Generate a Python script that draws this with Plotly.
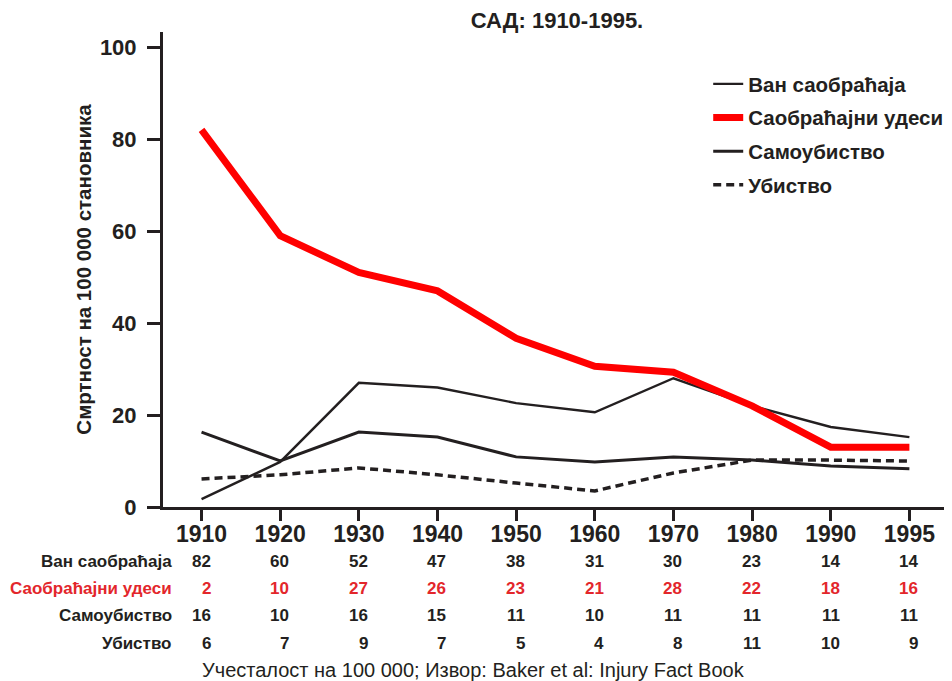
import plotly.graph_objects as go

years = ["1910", "1920", "1930", "1940", "1950", "1960", "1970", "1980", "1990", "1995"]

# Line values
saobracajni_udesi_line = [82, 59, 51, 47, 36.7, 30.6, 29.3, 22, 13, 13]
van_saobracaja_line = [1.7, 9.8, 27, 26, 22.6, 20.6, 28, 22, 17.4, 15.2]
samoubistvo_line = [16.3, 10, 16.3, 15.2, 10.9, 9.8, 10.9, 10.2, 8.9, 8.3]
ubistvo_line = [6.1, 7, 8.5, 7, 5.2, 3.5, 7.4, 10.2, 10.2, 10]

# Table below the chart
row_labels = ["Ван саобраћаја", "Саобраћајни удеси", "Самоубиство", "Убиство"]
row_van = [82, 60, 52, 47, 38, 31, 30, 23, 14, 14]
row_saob = [2, 10, 27, 26, 23, 21, 28, 22, 18, 16]
row_samo = [16, 10, 16, 15, 11, 10, 11, 11, 11, 11]
row_ubi = [6, 7, 9, 7, 5, 4, 8, 11, 10, 9]

DARK = "#231f20"
RED = "#ff0000"
TRED = "#e3262b"
FONT = "Liberation Sans, Arial, sans-serif"

fig = go.Figure()
fig.add_trace(go.Scatter(x=years, y=van_saobracaja_line, name="Ван саобраћаја", mode="lines",
                         line=dict(color=DARK, width=2.4), legendgroup="a"))
fig.add_trace(go.Scatter(x=years, y=saobracajni_udesi_line, name="Саобраћајни удеси", mode="lines",
                         line=dict(color=RED, width=7), legendgroup="b"))
fig.add_trace(go.Scatter(x=years, y=samoubistvo_line, name="Самоубиство", mode="lines",
                         line=dict(color=DARK, width=3), legendgroup="c"))
fig.add_trace(go.Scatter(x=years, y=ubistvo_line, name="Убиство", mode="lines",
                         line=dict(color=DARK, width=3.5, dash="8px,5px"), legendgroup="d"))

L, R, T, B = 163, 4, 32, 174
W, H = 952, 681
pw = W - L - R
ph = H - T - B

def py(pix):
    return (H - B - pix) / ph

def px(pix):
    return (pix - L) / pw

annotations = []
rows = [row_van, row_saob, row_samo, row_ubi]
row_y = [561, 588, 615, 643]
for i, (lab, vals) in enumerate(zip(row_labels, rows)):
    col = TRED if i == 1 else DARK
    annotations.append(dict(text=lab, xref="paper", yref="paper", x=px(174), y=py(row_y[i]),
                            xanchor="right", yanchor="middle", showarrow=False,
                            font=dict(family=FONT, size=17, color=col, weight="bold")))
    for j, v in enumerate(vals):
        annotations.append(dict(text=str(v), xref="x", yref="paper", x=j, y=py(row_y[i]),
                                xanchor="right", yanchor="middle", xshift=11, showarrow=False,
                                font=dict(family=FONT, size=17, color=col, weight="bold")))

annotations.append(dict(text="Учесталост на 100 000; Извор: Baker et al: Injury Fact Book",
                        xref="paper", yref="paper", x=px(475), y=py(670), xanchor="center",
                        yanchor="middle", showarrow=False,
                        font=dict(family=FONT, size=20, color=DARK)))

fig.update_layout(
    width=W, height=H,
    margin=dict(l=L, r=R, t=T, b=B),
    paper_bgcolor="white", plot_bgcolor="white",
    font=dict(family=FONT, color=DARK),
    title=dict(text="САД: 1910-1995.", x=557 / W, y=1 - 20 / H, xanchor="center", yanchor="middle",
               font=dict(family=FONT, size=22, color=DARK, weight="bold")),
    showlegend=True,
    legend=dict(x=px(711), y=py(64), xanchor="left", yanchor="top",
                font=dict(family=FONT, size=20.5, color=DARK, weight="bold"),
                tracegroupgap=4, bgcolor="rgba(0,0,0,0)"),
    annotations=annotations,
)

fig.update_xaxes(type="category", range=[-0.49, 9.44], showline=True, linecolor=DARK, linewidth=3,
                 ticks="outside", ticklen=11, tickwidth=3, tickcolor=DARK, showgrid=False,
                 zeroline=False, automargin=False, ticklabelstandoff=-7,
                 tickfont=dict(family=FONT, size=23, color=DARK, weight="bold"))
fig.update_yaxes(range=[0, 103.3], tickvals=[0, 20, 40, 60, 80, 100], showline=True, linecolor=DARK,
                 linewidth=3, ticks="outside", ticklen=13, tickwidth=3, tickcolor=DARK,
                 showgrid=False, zeroline=False, ticklabelstandoff=6, automargin=False,
                 tickfont=dict(family=FONT, size=22, color=DARK, weight="bold"),
                 title=dict(text="Смртност на 100 000 становника", standoff=3,
                            font=dict(family=FONT, size=20.5, color=DARK, weight="bold")))

fig.write_html("out.html", config={"displayModeBar": False},
               post_script="document.body.style.margin='0';document.body.style.overflow='hidden';")
